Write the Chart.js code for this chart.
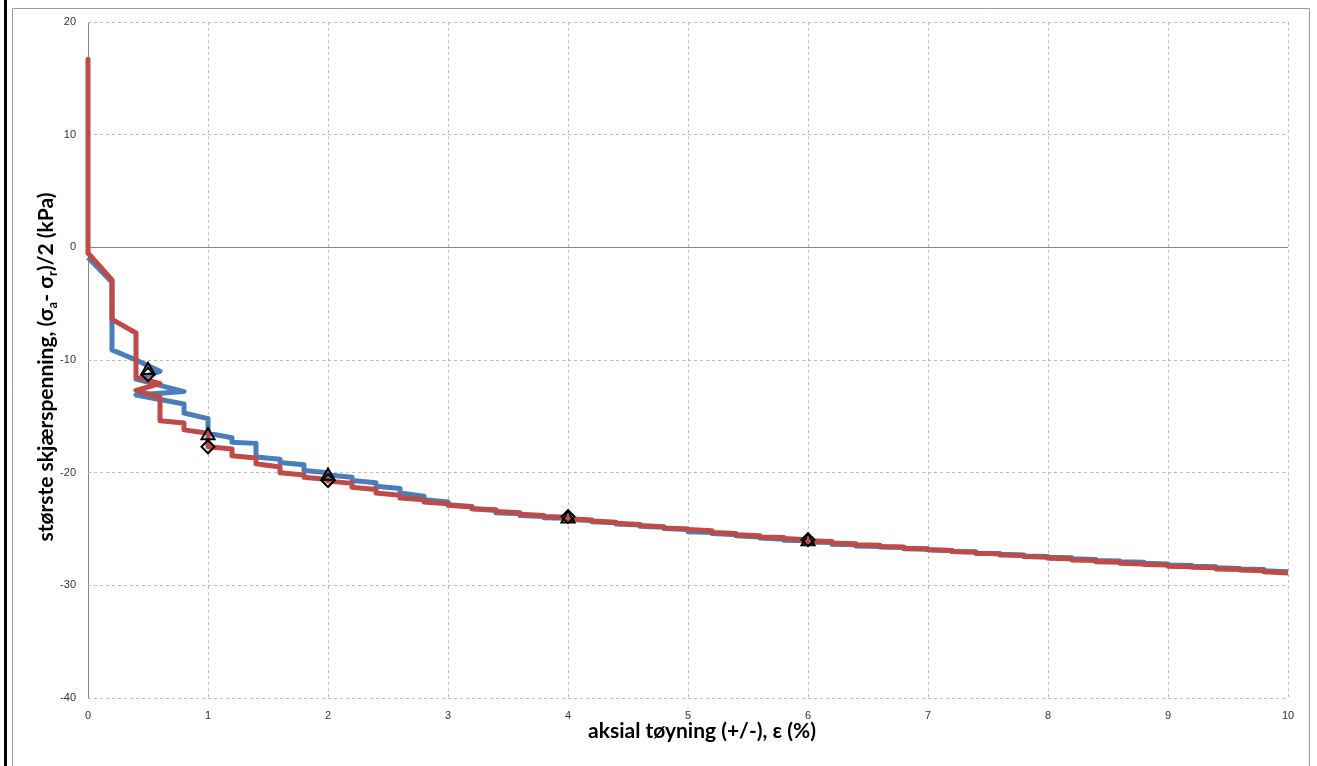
<!DOCTYPE html>
<html>
<head>
<meta charset="utf-8">
<script src="https://cdn.jsdelivr.net/npm/chart.js@4.4.1/dist/chart.umd.min.js"></script>
<style>
  html, body { margin: 0; padding: 0; background: #ffffff; overflow: hidden; }
  #wrap { width: 1317px; height: 766px; position: relative; }
  canvas { display: block; }
</style>
</head>
<body>
<div id="wrap"><canvas id="c" width="1317" height="766"></canvas></div>
<script>
// Axis ranges and tick steps
const strainRange = [0, 10];
const stressRange = [-40, 20];
const strainStep = 1;
const stressStep = 10;

// Blue test curve: axial strain (%) and shear stress (kPa)
const blueStrain = [0, 0.2, 0.2, 0.4, 0.6, 0.4, 0.8, 0.4, 0.8, 0.8, 1.0, 1.0, 1.2, 1.2, 1.4, 1.4, 1.6, 1.6, 1.8, 1.8, 2.0, 2.0,
  2.2, 2.2, 2.4, 2.4, 2.6, 2.6, 2.8, 2.8, 3.0, 3.0, 3.2, 3.2, 3.4, 3.4, 3.6, 3.6, 3.8, 3.8, 4.0, 4.0,
  4.2, 4.2, 4.4, 4.4, 4.6, 4.6, 4.8, 4.8, 5.0, 5.0, 5.2, 5.2, 5.4, 5.4, 5.6, 5.6, 5.8, 5.8, 6.0, 6.0,
  6.2, 6.2, 6.4, 6.4, 6.6, 6.6, 6.8, 6.8, 7.0, 7.0, 7.2, 7.2, 7.4, 7.4, 7.6, 7.6, 7.8, 7.8, 8.0, 8.0,
  8.2, 8.2, 8.4, 8.4, 8.6, 8.6, 8.8, 8.8, 9.0, 9.0, 9.2, 9.2, 9.4, 9.4, 9.6, 9.6, 9.8, 9.8, 10.0];
const blueStress = [-0.9, -3.1, -9.1, -10.0, -11.0, -11.7, -12.8, -13.1, -13.9, -14.7, -15.2, -16.5, -16.9, -17.3, -17.4, -18.6, -18.8, -19.1, -19.3, -19.8, -20.0, -20.2,
  -20.4, -20.7, -20.9, -21.2, -21.4, -21.8, -22.1, -22.4, -22.6, -22.85, -23.0, -23.2, -23.35, -23.55, -23.65, -23.8, -23.9, -24.0, -24.05, -24.15,
  -24.25, -24.35, -24.45, -24.55, -24.65, -24.75, -24.85, -24.95, -25.05, -25.25, -25.3, -25.4, -25.5, -25.6, -25.7, -25.8, -25.9, -26.0, -26.05, -26.15,
  -26.2, -26.35, -26.4, -26.5, -26.55, -26.6, -26.65, -26.75, -26.8, -26.85, -26.9, -27.0, -27.05, -27.15, -27.2, -27.25, -27.3, -27.4, -27.45, -27.5,
  -27.55, -27.65, -27.7, -27.8, -27.85, -27.9, -27.95, -28.05, -28.1, -28.2, -28.25, -28.3, -28.35, -28.45, -28.5, -28.55, -28.6, -28.7, -28.8];

// Red test curve
const redStrain = [0, 0, 0.2, 0.2, 0.4, 0.4, 0.6, 0.4, 0.6, 0.6, 0.8, 0.8, 1.0, 1.0, 1.2, 1.2, 1.4, 1.4, 1.6, 1.6, 1.8, 1.8, 2.0, 2.0,
  2.2, 2.2, 2.4, 2.4, 2.6, 2.6, 2.8, 2.8, 3.0, 3.0, 3.2, 3.2, 3.4, 3.4, 3.6, 3.6, 3.8, 3.8, 4.0, 4.0,
  4.2, 4.2, 4.4, 4.4, 4.6, 4.6, 4.8, 4.8, 5.0, 5.0, 5.2, 5.2, 5.4, 5.4, 5.6, 5.6, 5.8, 5.8, 6.0, 6.0,
  6.2, 6.2, 6.4, 6.4, 6.6, 6.6, 6.8, 6.8, 7.0, 7.0, 7.2, 7.2, 7.4, 7.4, 7.6, 7.6, 7.8, 7.8, 8.0, 8.0,
  8.2, 8.2, 8.4, 8.4, 8.6, 8.6, 8.8, 8.8, 9.0, 9.0, 9.2, 9.2, 9.4, 9.4, 9.6, 9.6, 9.8, 9.8, 10.0];
const redStress = [16.7, -0.5, -2.9, -6.4, -7.6, -11.5, -12.1, -12.7, -13.3, -15.4, -15.6, -16.2, -16.5, -17.7, -17.9, -18.5, -18.7, -19.2, -19.5, -20.0, -20.2, -20.4, -20.6, -20.75,
  -20.95, -21.3, -21.5, -21.8, -22.0, -22.25, -22.4, -22.6, -22.75, -22.9, -23.05, -23.2, -23.3, -23.45, -23.55, -23.7, -23.8, -23.9, -23.95, -24.1,
  -24.2, -24.3, -24.4, -24.5, -24.6, -24.7, -24.8, -24.9, -25.0, -25.05, -25.15, -25.3, -25.4, -25.5, -25.6, -25.7, -25.75, -25.85, -25.95, -26.05,
  -26.1, -26.25, -26.3, -26.4, -26.45, -26.55, -26.6, -26.7, -26.75, -26.85, -26.9, -27.0, -27.05, -27.15, -27.2, -27.3, -27.35, -27.45, -27.5, -27.6,
  -27.65, -27.75, -27.8, -27.9, -27.95, -28.05, -28.1, -28.15, -28.2, -28.3, -28.35, -28.4, -28.45, -28.55, -28.6, -28.65, -28.7, -28.8, -28.9];

// Marked readings at selected strains
const markerStrain = [0.5, 1, 2, 4, 6];
const triangleStress = [-10.9, -16.7, -20.3, -24.1, -26.1];
const diamondStress = [-11.3, -17.7, -20.7, -23.9, -25.95];

const xTitle = 'aksial tøyning (+/-), ε (%)';
const yTitleParts = [
  { text: 'største skjærspenning, (σ', sub: false },
  { text: 'a', sub: true },
  { text: '- σ', sub: false },
  { text: 'r', sub: true },
  { text: ')/2 (kPa)', sub: false }
];

const toPoints = (xs, ys) => xs.map((x, i) => ({ x: x, y: ys[i] }));

const TITLE_FONT = 'bold 21px Lato, "Open Sans", sans-serif';
const SUB_FONT = 'bold 13px Lato, "Open Sans", sans-serif';

// Outer frame and axis titles
const framePlugin = {
  id: 'frameAndTitles',
  beforeDraw(chart) {
    const c = chart.ctx;
    c.save();
    c.fillStyle = '#ffffff';
    c.fillRect(0, 0, chart.width, chart.height);
    c.restore();
  },
  afterDraw(chart) {
    const c = chart.ctx;
    c.save();
    // thick dark edge at the far left
    c.fillStyle = '#000000';
    c.fillRect(4, 0, 3, chart.height);
    // thin grey chart border
    c.strokeStyle = '#9a9a9a';
    c.lineWidth = 1;
    c.beginPath();
    c.moveTo(12.5, chart.height);
    c.lineTo(12.5, 8.5);
    c.lineTo(1309.5, 8.5);
    c.lineTo(1309.5, chart.height);
    c.stroke();

    // x axis title
    c.fillStyle = '#000000';
    c.font = TITLE_FONT;
    c.textAlign = 'center';
    c.textBaseline = 'alphabetic';
    c.fillText(xTitle, 702, 738);

    // y axis title with subscripts, rotated
    c.translate(53, 367);
    c.rotate(-Math.PI / 2);
    let total = 0;
    yTitleParts.forEach(p => {
      c.font = p.sub ? SUB_FONT : TITLE_FONT;
      total += c.measureText(p.text).width;
    });
    let x = -total / 2;
    c.textAlign = 'left';
    c.textBaseline = 'alphabetic';
    yTitleParts.forEach(p => {
      c.font = p.sub ? SUB_FONT : TITLE_FONT;
      c.fillText(p.text, x, p.sub ? 4 : 0);
      x += c.measureText(p.text).width;
    });
    c.restore();
  }
};

const tickFont = { family: '"Liberation Sans", Arial, sans-serif', size: 11 };
const gridColor = ctx => (ctx.tick && ctx.tick.value === 0) ? '#868686' : '#bcbcbc';
const gridDash = ctx => (ctx.tick && ctx.tick.value === 0) ? [] : [3, 3];

new Chart(document.getElementById('c'), {
  type: 'scatter',
  data: {
    datasets: [
      {
        label: 'Δ',
        data: toPoints(markerStrain, triangleStress),
        showLine: false,
        pointStyle: 'triangle',
        pointRadius: 7.5,
        pointBorderColor: '#000000',
        pointBackgroundColor: 'rgba(0,0,0,0)',
        pointBorderWidth: 2,
        order: 0,
        clip: 10
      },
      {
        label: '◊',
        data: toPoints(markerStrain, diamondStress),
        showLine: false,
        pointStyle: 'rectRot',
        pointRadius: 6.5,
        pointBorderColor: '#000000',
        pointBackgroundColor: 'rgba(0,0,0,0)',
        pointBorderWidth: 2,
        order: 1,
        clip: 10
      },
      {
        label: 'rød',
        data: toPoints(redStrain, redStress),
        showLine: true,
        borderColor: '#be4b48',
        borderWidth: 5,
        borderJoinStyle: 'round',
        pointRadius: 0,
        tension: 0,
        order: 2,
        clip: 6
      },
      {
        label: 'blå',
        data: toPoints(blueStrain, blueStress),
        showLine: true,
        borderColor: '#4a7ebb',
        borderWidth: 5,
        borderJoinStyle: 'round',
        pointRadius: 0,
        tension: 0,
        order: 3,
        clip: 6
      }
    ]
  },
  options: {
    responsive: false,
    animation: false,
    events: [],
    layout: { padding: { top: 22, right: 29, left: 0, bottom: 0 } },
    plugins: { legend: { display: false }, tooltip: { enabled: false } },
    scales: {
      x: {
        type: 'linear',
        min: strainRange[0],
        max: strainRange[1],
        ticks: { stepSize: strainStep, padding: 11, font: tickFont, color: '#333333', maxRotation: 0 },
        grid: { color: gridColor, lineWidth: 1, drawTicks: false },
        border: { display: false, dash: gridDash },
        afterFit: s => { s.height = 68; }
      },
      y: {
        type: 'linear',
        min: stressRange[0],
        max: stressRange[1],
        ticks: { stepSize: stressStep, padding: 12, font: tickFont, color: '#333333' },
        grid: { color: gridColor, lineWidth: 1, drawTicks: false },
        border: { display: false, dash: gridDash },
        afterFit: s => { s.width = 88; }
      }
    }
  },
  plugins: [framePlugin]
});
</script>
</body>
</html>
